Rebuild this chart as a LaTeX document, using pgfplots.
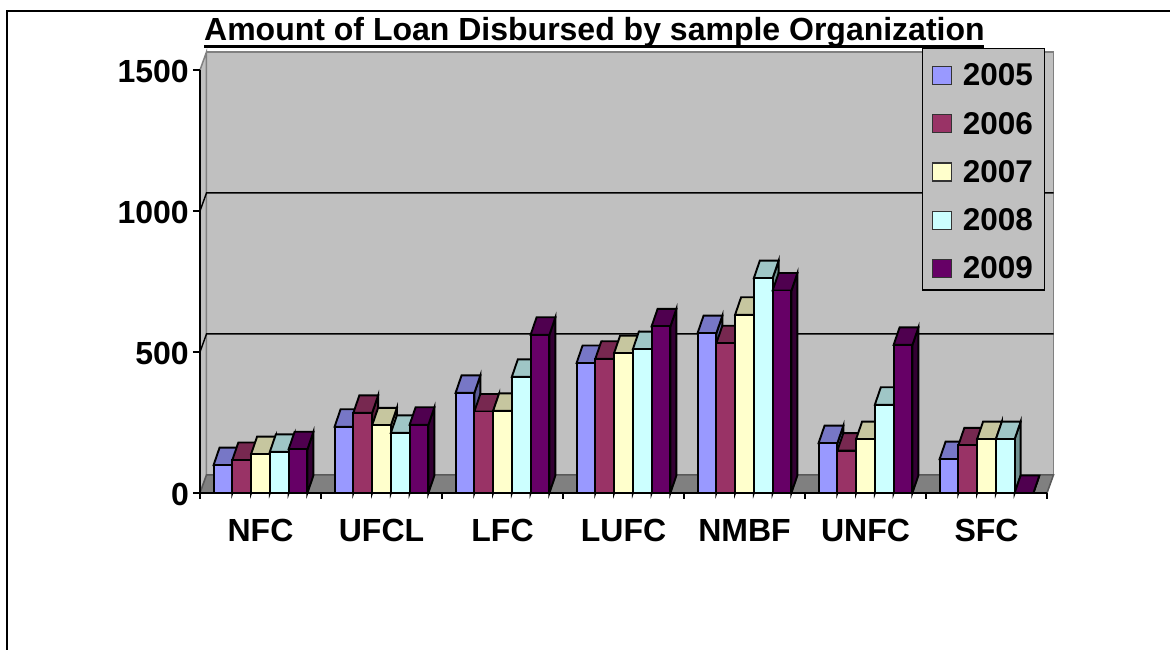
\documentclass[border=0pt]{standalone}
\usepackage{fontspec}
\setmainfont{Liberation Sans}
\usepackage{pgfplots}
\usepackage{pgfplotstable}
\pgfplotsset{compat=1.18}
\definecolor{cA}{HTML}{9999FF}\definecolor{tA}{HTML}{7777C6}\definecolor{sA}{HTML}{5C5C99}
\definecolor{cB}{HTML}{993366}\definecolor{tB}{HTML}{772850}\definecolor{sB}{HTML}{5C1F3D}
\definecolor{cC}{HTML}{FFFFCC}\definecolor{tC}{HTML}{C6C69F}\definecolor{sC}{HTML}{99997A}
\definecolor{cD}{HTML}{CCFFFF}\definecolor{tD}{HTML}{9FC6C6}\definecolor{sD}{HTML}{6F9090}
\definecolor{cE}{HTML}{660066}\definecolor{tE}{HTML}{4F004F}\definecolor{sE}{HTML}{330033}
\definecolor{wallc}{HTML}{C0C0C0}\definecolor{floorc}{HTML}{808080}
% series values, categories NFC UFCL LFC LUFC NMBF UNFC SFC
\pgfplotstableread{
v
99
235
355
461
567
177
120
}\tblA
\pgfplotstableread{
v
117
284
289
476
531
150
169
}\tblB
\pgfplotstableread{
v
138
240
291
496
632
191
191
}\tblC
\pgfplotstableread{
v
146
213
412
510
762
313
191
}\tblD
\pgfplotstableread{
v
155
242
561
591
718
525
0
}\tblE
\def\hw{9.4pt}\def\dpx{6pt}\def\dpy{17.5pt}
\newcommand\defbox[4]{%
\pgfdeclareplotmark{box#1}{%
 \pgfsetfillcolor{#3}%
 \pgfpathmoveto{\pgfpoint{\hw}{0pt}}%
 \pgfpathlineto{\pgfpoint{\hw+\dpx}{\dpy}}%
 \pgfpathlineto{\pgfpoint{\hw+\dpx}{\dpy-\hpx pt}}%
 \pgfpathlineto{\pgfpoint{\hw}{-\hpx pt}}%
 \pgfpathclose\pgfusepath{fill,stroke}%
 \pgfsetfillcolor{#2}%
 \pgfpathmoveto{\pgfpoint{-\hw}{0pt}}%
 \pgfpathlineto{\pgfpoint{\hw}{0pt}}%
 \pgfpathlineto{\pgfpoint{\hw+\dpx}{\dpy}}%
 \pgfpathlineto{\pgfpoint{-\hw+\dpx}{\dpy}}%
 \pgfpathclose\pgfusepath{fill,stroke}%
 \pgfsetfillcolor{#4}%
 \pgfpathmoveto{\pgfpoint{-\hw}{0pt}}%
 \pgfpathlineto{\pgfpoint{\hw}{0pt}}%
 \pgfpathlineto{\pgfpoint{\hw}{-\hpx pt}}%
 \pgfpathlineto{\pgfpoint{-\hw}{-\hpx pt}}%
 \pgfpathclose\pgfusepath{fill,stroke}%
}}
\defbox{A}{tA}{sA}{cA}\defbox{B}{tB}{sB}{cB}\defbox{C}{tC}{sC}{cC}\defbox{D}{tD}{sD}{cD}\defbox{E}{tE}{sE}{cE}
\newcommand\series[5]{%
 \addplot[ybar, bar width=0.155, bar shift=0pt, draw=black, fill=c#1, line width=1.9pt,
   legend image code/.code={\draw[fill=c#1,draw=black!80,line width=1.2pt] (0pt,-9pt) rectangle (19pt,9pt);\path (27pt,#5);}]
   table[x expr=\coordindex+#2, y=v] {#3};
 \addlegendentry{#4}%
 \addplot[forget plot, only marks, mark=box#1, draw=black, line width=1.9pt,
   visualization depends on={\thisrow{v}*0.282 \as \hpx}]
   table[x expr=\coordindex+#2, y=v] {#3};
}
\begin{document}
\begin{tikzpicture}[x=1pt,y=1pt]
\path[use as bounding box] (0,0) rectangle (1170,650);
\draw[line width=1.3pt] (7,0)--(7,639)--(1170,639);
\begin{axis}[at={(200pt,157pt)},anchor=south west,scale only axis,width=847pt,height=423pt,
  xmin=-0.5,xmax=6.5,ymin=0,ymax=1500,clip=false,axis on top,
  axis x line=bottom,axis y line=left,
  axis line style={-,line width=1.8pt,black},
  xtick={0,1,2,3,4,5,6},
  xticklabels={NFC,UFCL,LFC,LUFC,NMBF,UNFC,SFC},
  minor xtick={-0.5,0.5,1.5,2.5,3.5,4.5,5.5,6.5},
  ytick={0,500,1000,1500},yticklabels={0,500,1000,1500},
  tick align=outside,major tick length=7pt,minor tick length=6pt,
  tick style={black,line width=1.5pt},
  major x tick style={draw=none},
  tick label style={font=\fontsize{32}{32}\selectfont\bfseries},
  xticklabel style={inner sep=0pt,yshift=-19pt},
  yticklabel style={inner sep=0pt,xshift=-4pt,yshift=-1pt},
  title={Amount of Loan Disbursed by sample Organization},
  title style={at={(0.0047,1.0662)},anchor=base west,inner sep=0pt,yshift=-5pt,font=\fontsize{32}{32}\selectfont\bfseries},
  legend style={at={(0.8524,1.052)},anchor=north west,fill=wallc,draw=black,line width=1.5pt,
    font=\fontsize{31.5}{32}\selectfont\bfseries,inner xsep=9.5pt,inner ysep=8pt,row sep=20.7pt},
  legend cell align=left,
]
\addplot[forget plot,fill=wallc,draw=floorc,line width=1.5pt] coordinates {(-0.4463,64)(6.5537,64)(6.5537,1564)(-0.4463,1564)(-0.4463,64)};
\addplot[forget plot,fill=wallc,draw=floorc,line width=1.5pt] coordinates {(-0.5,0)(-0.4463,64)(-0.4463,1564)(-0.5,1500)(-0.5,0)};
\addplot[forget plot,fill=floorc,draw=black!65,line width=1.5pt] coordinates {(-0.5,0)(6.5,0)(6.5537,64)(-0.4463,64)(-0.5,0)};
\addplot[forget plot,black,line width=1.4pt] coordinates {(-0.5,500)(-0.4463,564)(6.5537,564)};
\addplot[forget plot,black,line width=1.4pt] coordinates {(-0.5,1000)(-0.4463,1064)(6.5537,1064)};
\series{A}{-0.31}{\tblA}{2005}{18pt}
\series{B}{-0.155}{\tblB}{2006}{0pt}
\series{C}{0}{\tblC}{2007}{0pt}
\series{D}{0.155}{\tblD}{2008}{0pt}
\series{E}{0.31}{\tblE}{2009}{0pt}
\end{axis}
\draw[line width=3pt] (204,603.5)--(984,603.5);
\end{tikzpicture}
\end{document}
